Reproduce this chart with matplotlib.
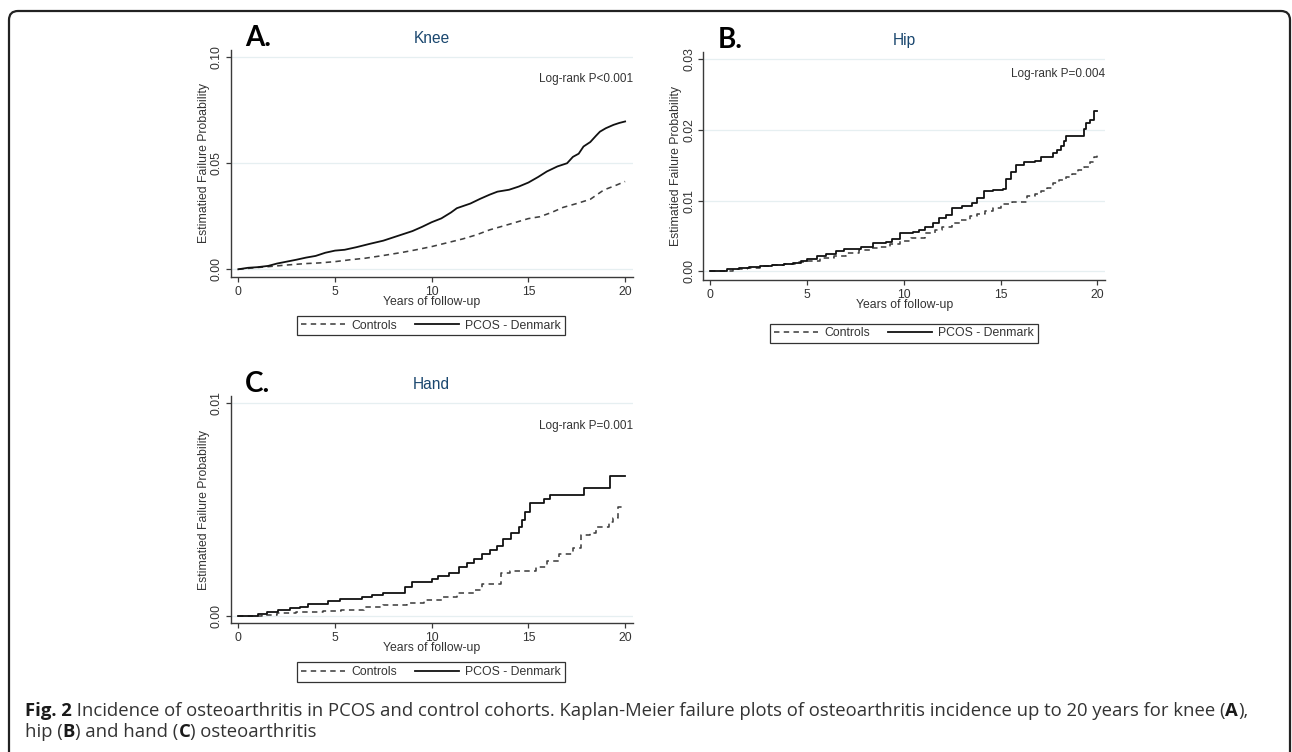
import matplotlib
matplotlib.use("Agg")
import matplotlib.pyplot as plt
from matplotlib.lines import Line2D
from matplotlib.patches import FancyBboxPatch

# ---------------- data ----------------
knee_pcos_t = [0, 0.5, 1.0, 1.55, 2.0, 2.5, 3.0, 3.5, 4.0, 4.5, 5.0, 5.5, 6.1, 6.8, 7.5, 8.0, 8.5, 9.0, 9.5, 10.0,
               10.5, 11.0, 11.3, 12.0, 12.5, 13.0, 13.4, 14.0, 14.5, 15.0, 15.5, 15.95, 16.5, 17.0, 17.3, 17.6,
               17.85, 18.2, 18.5, 18.7, 19.0, 19.4, 19.7, 20.0]
knee_pcos_p = [0, 0.0007, 0.0010, 0.0016, 0.0027, 0.0036, 0.0045, 0.0055, 0.0063, 0.0078, 0.0088, 0.0092, 0.0104,
               0.0120, 0.0135, 0.0150, 0.0165, 0.0180, 0.0200, 0.0222, 0.0240, 0.0268, 0.0288, 0.0310, 0.0332,
               0.0352, 0.0366, 0.0375, 0.0390, 0.0409, 0.0435, 0.0461, 0.0485, 0.0500, 0.0530, 0.0545, 0.0579,
               0.0600, 0.0630, 0.0649, 0.0665, 0.0681, 0.0690, 0.0697]
knee_ctrl_t = [0, 0.95, 1.5, 2.5, 3.5, 4.2, 5.0, 5.8, 6.55, 7.5, 8.5, 9.2, 10.0, 10.8, 11.6, 12.3, 13.0, 14.0, 15.0,
               15.6, 16.2, 16.8, 17.5, 18.2, 18.9, 19.5, 20.0]
knee_ctrl_p = [0, 0.0008, 0.0012, 0.0020, 0.0027, 0.0030, 0.0036, 0.0045, 0.0052, 0.0065, 0.0080, 0.0092, 0.0107,
               0.0125, 0.0143, 0.0162, 0.0186, 0.0212, 0.0239, 0.0248, 0.0268, 0.0292, 0.0310, 0.0330, 0.0374,
               0.0395, 0.0414]

hip_pcos_t = [0, 0.3, 0.86, 1.5, 2.0, 2.6, 3.2, 3.8, 4.3, 4.7, 5.0, 5.5, 6.0, 6.5, 6.9, 7.4, 7.8, 8.4, 9.1, 9.4, 9.8,
              10.5, 10.8, 11.1, 11.5, 11.8, 12.2, 12.5, 13.0, 13.5, 13.8, 14.15, 14.6, 15.1, 15.3, 15.55, 15.8,
              16.2, 16.8, 17.1, 17.7, 17.9, 18.1, 18.25, 18.4, 19.2, 19.3, 19.4, 19.6, 19.8, 20.0]
hip_pcos_p = [0, 0.0001, 0.0003, 0.0004, 0.0006, 0.00075, 0.0009, 0.0011, 0.0012, 0.0015, 0.0017, 0.0021, 0.0024,
              0.0029, 0.0031, 0.0032, 0.0035, 0.0040, 0.0042, 0.0046, 0.0054, 0.0056, 0.0059, 0.0063, 0.0068,
              0.0075, 0.0080, 0.0089, 0.0092, 0.0097, 0.0104, 0.0113, 0.0115, 0.0117, 0.0130, 0.0141, 0.0150,
              0.0155, 0.0156, 0.0162, 0.0167, 0.0172, 0.0177, 0.0185, 0.0192, 0.0192, 0.0202, 0.0210, 0.0214,
              0.0227, 0.0227]
hip_ctrl_t = [0, 0.6, 1.2, 1.9, 2.6, 3.2, 3.8, 4.4, 5.0, 5.7, 6.4, 7.0, 7.7, 8.3, 8.8, 9.3, 9.8, 10.4, 11.1, 11.6,
              12.0, 12.5, 12.9, 13.4, 13.8, 14.2, 14.6, 15.0, 15.6, 16.35, 16.8, 17.1, 17.4, 17.7, 18.0, 18.4,
              18.7, 19.0, 19.3, 19.6, 19.8, 20.0]
hip_ctrl_p = [0, 0.0001, 0.0003, 0.0005, 0.0007, 0.0009, 0.0011, 0.0013, 0.0015, 0.0019, 0.0022, 0.0026, 0.0030,
              0.0033, 0.0035, 0.0039, 0.0043, 0.0047, 0.0054, 0.0059, 0.0063, 0.0068, 0.0073, 0.0078, 0.0081,
              0.0085, 0.0089, 0.0095, 0.0098, 0.0107, 0.0110, 0.0113, 0.0118, 0.0125, 0.0129, 0.0133, 0.0138,
              0.0143, 0.0148, 0.0155, 0.0162, 0.0167]

hand_pcos_t = [0, 1.03, 1.47, 2.07, 2.67, 3.2, 3.6, 4.65, 5.26, 6.4, 6.9, 7.5, 8.6, 8.97, 10.0, 10.35, 10.9, 11.4,
               11.8, 12.2, 12.6, 13.0, 13.4, 13.7, 14.1, 14.5, 14.65, 14.8, 15.1, 15.8, 16.1, 17.85, 19.2, 20.0]
hand_pcos_p = [0, 0.00010, 0.00019, 0.00030, 0.00036, 0.00044, 0.00058, 0.00070, 0.00078, 0.00088, 0.00100,
               0.00110, 0.00138, 0.00161, 0.00172, 0.00190, 0.00200, 0.00230, 0.00250, 0.00270, 0.00290, 0.00310,
               0.00330, 0.00360, 0.00390, 0.00420, 0.00450, 0.00490, 0.00530, 0.00550, 0.00570, 0.00600, 0.00660,
               0.00660]
hand_ctrl_t = [0, 1.2, 2.0, 3.0, 4.4, 5.3, 6.5, 7.5, 8.7, 9.6, 10.6, 11.3, 12.2, 12.6, 13.6, 14.05, 15.4, 15.95,
               16.6, 17.3, 17.7, 18.2, 18.5, 19.15, 19.4, 19.65, 20.0]
hand_ctrl_p = [0, 0.00006, 0.00013, 0.00017, 0.00024, 0.00030, 0.00044, 0.00050, 0.00060, 0.00075, 0.00090,
               0.00110, 0.00120, 0.00150, 0.00200, 0.00210, 0.00230, 0.00260, 0.00290, 0.00320, 0.00380, 0.00390,
               0.00420, 0.00440, 0.00460, 0.00510, 0.00510]

panel_letters = ["A.", "B.", "C."]
panel_titles = ["Knee", "Hip", "Hand"]
logrank_texts = ["Log-rank P<0.001", "Log-rank P=0.004", "Log-rank P=0.001"]
yticks_knee = [0.00, 0.05, 0.10]
yticks_hip = [0.00, 0.01, 0.02, 0.03]
yticks_hand = [0.00, 0.01]
xticks = [0, 5, 10, 15, 20]
series_labels = ["Controls", "PCOS - Denmark"]
xlabel = "Years of follow-up"
ylabel = "Estimatied Failure Probability"

# ---------------- layout ----------------
W, H = 1292, 752
fig = plt.figure(figsize=(W / 100, H / 100), dpi=100)
fig.patch.set_facecolor("white")

FONT = ["Liberation Sans", "DejaVu Sans"]
NAVY = "#1a476f"
AX = "#3a3a3a"
GRID = "#e6eff1"
DASH = (3.4, 2.7)
CTRL_C, CTRL_LW = "#404040", 1.15
PCOS_C, PCOS_LW = "#111111", 1.3


def px_axes(left, top, right, bottom):
    return fig.add_axes([left / W, 1 - bottom / H, (right - left) / W, (bottom - top) / H])


panels = [
    dict(box=(230.7, 50, 632.7, 276.7), xlim=(-0.393, 20.393), ylim=(-0.0035, 0.1034),
         yt=yticks_knee, pcos=(knee_pcos_t, knee_pcos_p), ctrl=(knee_ctrl_t, knee_ctrl_p),
         step=False, lr_y=0.871, leg=(431, 325.5)),
    dict(box=(703.3, 52, 1105, 280), xlim=(-0.346, 20.39), ylim=(-0.00123, 0.03103),
         yt=yticks_hip, pcos=(hip_pcos_t, hip_pcos_p), ctrl=(hip_ctrl_t, hip_ctrl_p),
         step=True, lr_y=0.9035, leg=(904, 333.3)),
    dict(box=(230.7, 396, 632.7, 623.3), xlim=(-0.393, 20.393), ylim=(-0.000343, 0.01034),
         yt=yticks_hand, pcos=(hand_pcos_t, hand_pcos_p), ctrl=(hand_ctrl_t, hand_ctrl_p),
         step=True, lr_y=0.868, leg=(431, 672)),
]

for i, p in enumerate(panels):
    l, t, r, b = p["box"]
    ax = px_axes(l, t, r, b)
    ax.set_xlim(*p["xlim"])
    ax.set_ylim(*p["ylim"])
    for s in ("top", "right"):
        ax.spines[s].set_visible(False)
    for s in ("left", "bottom"):
        ax.spines[s].set_color(AX)
        ax.spines[s].set_linewidth(1.0)
    ax.set_xticks(xticks)
    ax.set_yticks(p["yt"])
    ax.set_yticklabels(["%.2f" % v for v in p["yt"]])
    ax.tick_params(axis="both", direction="out", color=AX, labelcolor="#333333",
                   labelsize=8.8, length=3.8, width=0.9)
    ax.tick_params(axis="x", pad=2.6)
    ax.tick_params(axis="y", pad=1.8)
    for lab in ax.get_xticklabels() + ax.get_yticklabels():
        lab.set_family(FONT)
    for lab in ax.get_yticklabels():
        lab.set_rotation(90)
        lab.set_va("center")
    for v in p["yt"]:
        ax.axhline(v, color=GRID, lw=0.9, zorder=0)

    ds = "steps-post" if p["step"] else "default"
    ax.plot(p["ctrl"][0], p["ctrl"][1], color=CTRL_C, lw=CTRL_LW, dashes=DASH, drawstyle=ds)
    ax.plot(p["pcos"][0], p["pcos"][1], color=PCOS_C, lw=PCOS_LW, drawstyle=ds)

    ax.set_xlabel(xlabel, fontsize=8.8, family=FONT, color="#333333")
    hgt = b - t
    wid = r - l
    ax.xaxis.set_label_coords(0.5, -25.0 / hgt)
    ax.xaxis.label.set_va("center")
    ax.set_ylabel(ylabel, fontsize=8.8, family=FONT, color="#333333")
    ax.yaxis.set_label_coords(-27.0 / wid, 0.5)
    ax.yaxis.label.set_va("center")

    ax.text(0.5, 1 + 11.5 / hgt, panel_titles[i], transform=ax.transAxes, ha="center", va="center",
            fontsize=11.2, color=NAVY, family=FONT)
    ax.text(14.0 / wid, 1 + 11.5 / hgt, panel_letters[i], transform=ax.transAxes, ha="left", va="center",
            fontsize=20, fontweight="bold", color="black", family=["Lato", "DejaVu Sans"])
    ax.text(1.0, p["lr_y"], logrank_texts[i], transform=ax.transAxes, ha="right", va="center",
            fontsize=8.5, color="#333333", family=FONT)

    handles = [Line2D([], [], color=CTRL_C, lw=CTRL_LW, dashes=DASH),
               Line2D([], [], color=PCOS_C, lw=PCOS_LW)]
    cx, cy = p["leg"]
    leg = fig.legend(handles, series_labels, loc="center", bbox_to_anchor=(cx / W, 1 - cy / H),
                     ncol=2, frameon=True, fancybox=False, edgecolor="#333333", framealpha=1,
                     prop={"family": FONT, "size": 8.8}, handlelength=3.6, handletextpad=0.5,
                     columnspacing=1.5, borderpad=0.3, borderaxespad=0)
    leg.get_frame().set_linewidth(0.9)
    for txt in leg.get_texts():
        txt.set_color("#333333")

# ---------------- outer frame ----------------
frame = FancyBboxPatch((9 / W, -30 / H), (1290 - 9) / W, (H - 11 + 30) / H,
                       boxstyle="round,pad=0,rounding_size=0.007", transform=fig.transFigure,
                       fill=False, edgecolor="#222222", lw=1.6, mutation_aspect=W / H)
fig.patches.append(frame)

# ---------------- caption ----------------
CAP = ["Open Sans", "DejaVu Sans"]
line1 = [("Fig. 2", "bold"), (" Incidence of osteoarthritis in PCOS and control cohorts. Kaplan-Meier failure plots of osteoarthritis incidence up to 20 years for knee (", "normal"),
         ("A", "bold"), ("),", "normal")]
line2 = [("hip (", "normal"), ("B", "bold"), (") and hand (", "normal"), ("C", "bold"), (") osteoarthritis", "normal")]

renderer = fig.canvas.get_renderer()


def draw_runs(x0, ybase, runs, size, draw=True):
    x = x0
    made = []
    for s, w in runs:
        tx = fig.text(x / W, 1 - ybase / H, s, fontsize=size, fontweight=w, family=CAP,
                      va="baseline", ha="left", color="#333333" if w == "normal" else "#1a1a1a")
        bb = tx.get_window_extent(renderer)
        x += bb.width
        made.append(tx)
    if not draw:
        for tx in made:
            tx.remove()
    return x - x0


w10 = draw_runs(25, 714, line1, 10, draw=False)
cap_size = 10 * (1244 - 25) / w10
draw_runs(25, 716, line1, cap_size)
draw_runs(25, 737, line2, cap_size)

fig.savefig("out.png", dpi=100, facecolor="white")
